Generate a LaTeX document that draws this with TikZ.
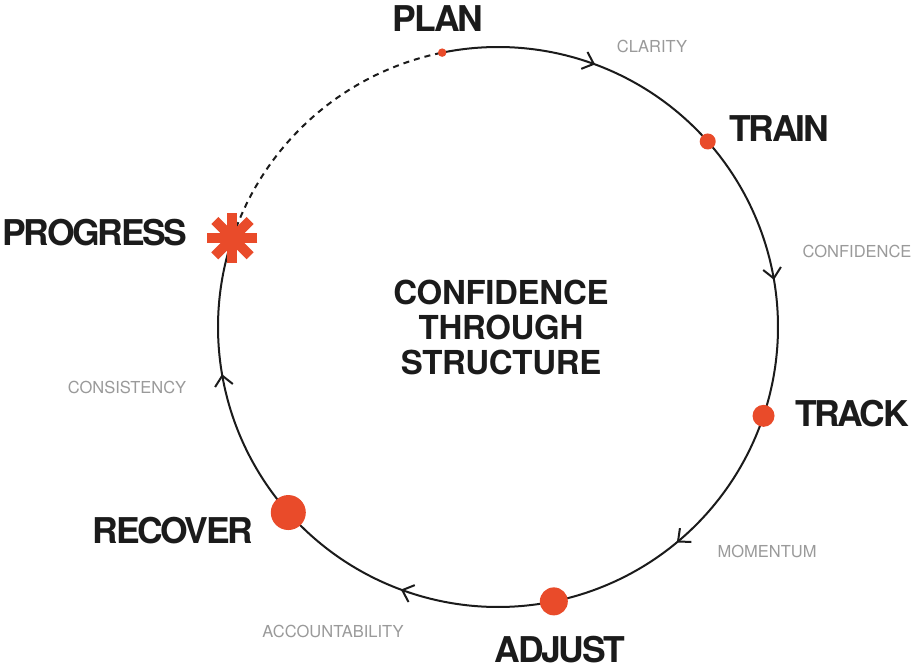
\documentclass[tikz,border=0pt]{standalone}
\usepackage{fontspec}
\setmainfont{TeX Gyre Heros}
\newfontfamily\labfont[LetterSpace=-6.5]{TeX Gyre Heros}
\newfontfamily\midfont[LetterSpace=-1]{TeX Gyre Heros}
\usetikzlibrary{arrows.meta,decorations.markings,calc}
\definecolor{accent}{HTML}{E94B2A}
\definecolor{ink}{HTML}{1B1B1B}
\definecolor{muted}{HTML}{9A9A9A}
\tikzset{
  ring/.style={draw=ink, line width=2pt},
  flowarc/.style={ring, postaction={decorate},
    decoration={markings, mark=at position 0.53 with {\arrow{Straight Barb[length=10pt,width=18pt]}}}},
  openarc/.style={ring, dash pattern=on 6pt off 5pt},
  dot/.style={circle, fill=accent, inner sep=0pt, draw=none},
  stagelab/.style={text=ink, inner sep=0pt, anchor=base,
    font=\labfont\bfseries\fontsize{35.5}{35.5}\selectfont},
  gainlab/.style={text=muted, inner sep=0pt, anchor=base,
    font=\fontsize{16.5}{16.5}\selectfont},
  hub/.style={text=ink, inner sep=0pt, align=center,
    font=\midfont\bfseries\fontsize{33}{35}\selectfont}
}
\begin{document}
\begin{tikzpicture}[x=1pt,y=-1pt]
\useasboundingbox[fill=white] (0,0) rectangle (912,671);
\coordinate (c) at (498,327);
\def\R{280}
\coordinate (plan) at ($(c)+(-101.5:\R)$);
\coordinate (train) at ($(c)+(-41.5:\R)$);
\coordinate (track) at ($(c)+(18.5:\R)$);
\coordinate (adjust) at ($(c)+(78.5:\R)$);
\coordinate (recover) at ($(c)+(138.5:\R)$);
\coordinate (prog) at ($(c)+(198.5:\R)$);
% ring
\draw[flowarc] (plan) arc[start angle=-101.5, end angle=-41.5, radius=\R];
\draw[flowarc] (train) arc[start angle=-41.5, end angle=18.5, radius=\R];
\draw[flowarc] (track) arc[start angle=18.5, end angle=78.5, radius=\R];
\draw[flowarc] (adjust) arc[start angle=78.5, end angle=138.5, radius=\R];
\draw[flowarc] (recover) arc[start angle=138.5, end angle=198.5, radius=\R];
\draw[openarc] (prog) arc[start angle=198.5, end angle=258.5, radius=\R];
% dots
\node[dot, minimum size=8.5pt] (plandot) at (plan) {};
\node[dot, minimum size=16pt] (traindot) at (train) {};
\node[dot, minimum size=22pt] (trackdot) at (track) {};
\node[dot, minimum size=28pt] (adjustdot) at (adjust) {};
\node[dot, minimum size=35pt] (recoverdot) at (recover) {};
% asterisk
\foreach \a in {0,45,90,135}
  \draw[accent, line width=10pt] ($(prog)+(\a:25)$) -- ($(prog)+(\a+180:25)$);
% stage labels
\node[stagelab] (planlab) at (438,32) {PLAN};
\node[stagelab] (trainlab) at (779,142) {TRAIN};
\node[stagelab] (tracklab) at (852,426) {TRACK};
\node[stagelab] (adjustlab) at (560,662) {ADJUST};
\node[stagelab] (recoverlab) at (173,543) {RECOVER};
\node[stagelab] (proglab) at (95,245) {PROGRESS};
% gains
\node[gainlab] (g1) at (652,53) {CLARITY};
\node[gainlab] (g2) at (857,257) {CONFIDENCE};
\node[gainlab] (g3) at (767,557) {MOMENTUM};
\node[gainlab] (g4) at (333,637) {ACCOUNTABILITY};
\node[gainlab] (g5) at (127,393) {CONSISTENCY};
% hub
\node[hub] (hubtext) at (501,327.5) {CONFIDENCE\\THROUGH\\STRUCTURE};
\end{tikzpicture}
\end{document}
